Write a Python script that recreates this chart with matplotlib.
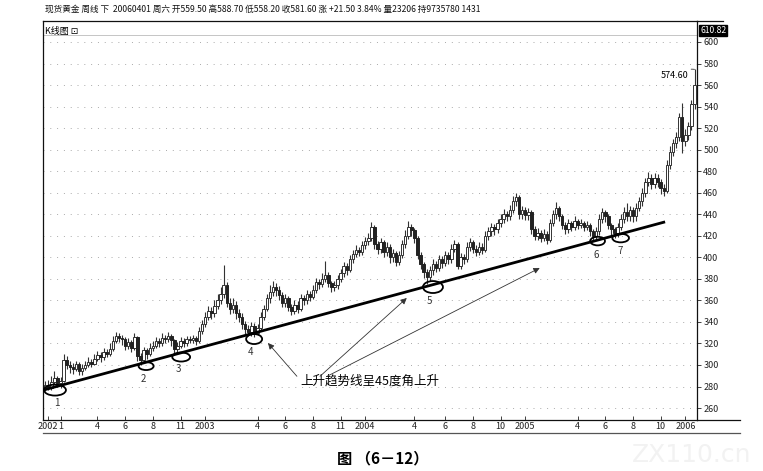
import matplotlib
matplotlib.use("Agg")
import matplotlib.pyplot as plt
from matplotlib.patches import Ellipse
from matplotlib.lines import Line2D
import matplotlib.transforms as mtransforms
import numpy as np

plt.rcParams['font.family'] = ['Noto Sans CJK SC', 'DejaVu Sans']

# weekly candles, Jan 2002 .. early 2006
closes = [281, 279, 284, 288, 283, 285, 305, 300, 298, 296,
          301, 294, 297, 300, 303, 301, 306, 309, 307, 312,
          310, 315, 322, 327, 325, 324, 318, 321, 316, 326,
          308, 305, 314, 310, 316, 318, 322, 320, 325, 324,
          327, 323, 315, 318, 322, 320, 324, 323, 325, 322,
          332, 338, 345, 350, 348, 355, 360, 366, 374, 358,
          352, 356, 348, 345, 338, 333, 331, 336, 330, 334,
          345, 352, 362, 368, 372, 370, 365, 358, 362, 354,
          350, 356, 352, 362, 360, 366, 363, 370, 377, 375,
          380, 384, 376, 372, 374, 380, 385, 392, 388, 398,
          403, 407, 405, 411, 415, 418, 428, 412, 408, 414,
          405, 410, 400, 404, 396, 402, 412, 420, 428, 425,
          418, 402, 394, 386, 382, 388, 394, 390, 398, 395,
          402, 398, 408, 412, 392, 400, 398, 410, 414, 408,
          405, 410, 407, 420, 424, 428, 426, 432, 436, 440,
          438, 444, 452, 456, 440, 444, 439, 442, 426, 420,
          423, 418, 422, 416, 432, 440, 446, 438, 430, 426,
          432, 428, 434, 430, 432, 428, 430, 424, 420, 424,
          436, 442, 438, 430, 426, 423, 428, 436, 442, 438,
          444, 438, 446, 452, 460, 470, 474, 468, 474, 470,
          464, 462, 486, 498, 506, 512, 530, 508, 514, 522, 542, 560]

highs = [285, 286, 290, 294, 290, 289, 310, 308, 304, 302,
         304, 303, 301, 304, 307, 306, 310, 313, 312, 316,
         315, 320, 327, 331, 330, 328, 326, 325, 323, 330,
         327, 311, 317, 316, 320, 322, 326, 325, 330, 328,
         331, 329, 324, 321, 326, 325, 327, 327, 328, 327,
         335, 342, 349, 355, 354, 360, 366, 372, 393, 377,
         362, 362, 359, 352, 348, 341, 337, 340, 339, 338,
         349, 356, 366, 374, 378, 376, 373, 368, 366, 364,
         357, 360, 359, 366, 365, 370, 369, 374, 381, 380,
         385, 397, 386, 378, 378, 384, 389, 396, 395, 402,
         407, 411, 410, 415, 419, 423, 433, 430, 415, 418,
         416, 414, 412, 408, 406, 406, 416, 425, 434, 431,
         427, 420, 405, 396, 389, 392, 398, 397, 402, 401,
         406, 405, 412, 416, 414, 404, 403, 414, 418, 416,
         411, 414, 413, 424, 428, 432, 431, 436, 440, 445,
         443, 449, 457, 460, 458, 448, 447, 446, 444, 429,
         427, 425, 426, 424, 436, 444, 451, 448, 440, 433,
         436, 434, 438, 436, 436, 434, 434, 432, 426, 428,
         440, 446, 444, 440, 432, 428, 432, 440, 447, 450,
         448, 447, 450, 456, 464, 474, 479, 477, 478, 477,
         473, 468, 490, 503, 510, 516, 534, 543, 519, 526, 546, 574.6]

lows = [276, 277, 277, 282, 280, 279, 284, 296, 293, 292,
        294, 291, 291, 295, 298, 298, 300, 304, 303, 305,
        307, 308, 313, 320, 321, 319, 314, 315, 312, 314,
        304, 300, 303, 306, 308, 313, 316, 317, 318, 320,
        321, 318, 310, 311, 316, 317, 318, 320, 320, 319,
        320, 329, 335, 342, 343, 345, 352, 357, 362, 354,
        347, 348, 343, 340, 333, 329, 327, 327, 326, 328,
        332, 342, 350, 358, 364, 364, 360, 354, 354, 350,
        346, 347, 348, 350, 356, 357, 359, 361, 367, 371,
        372, 377, 372, 368, 369, 371, 377, 382, 384, 386,
        395, 400, 401, 402, 408, 411, 415, 408, 403, 404,
        400, 401, 395, 396, 392, 393, 399, 409, 417, 420,
        413, 398, 389, 381, 375, 378, 384, 386, 387, 390,
        392, 394, 395, 405, 389, 389, 394, 396, 406, 404,
        401, 402, 403, 405, 416, 420, 421, 423, 428, 432,
        434, 435, 441, 448, 436, 436, 435, 435, 422, 416,
        416, 414, 415, 412, 414, 429, 436, 434, 426, 422,
        423, 424, 425, 426, 427, 424, 425, 420, 415, 416,
        421, 432, 433, 426, 421, 418, 419, 425, 432, 434,
        434, 433, 434, 443, 448, 456, 466, 463, 464, 465,
        459, 457, 460, 482, 494, 502, 508, 497, 503, 509, 518, 538]

first_open = 278
opens = [first_open] + closes[:-1]

tick_pos = [1, 5, 17, 26, 35, 44, 52, 69, 78, 87, 96, 104, 120, 130, 139, 148,
            156, 173, 182, 191, 200, 208]
tick_lab = ['2002', '1', '4', '6', '8', '11', '2003', '4', '6', '8', '11', '2004',
            '4', '6', '8', '10', '2005', '4', '6', '8', '10', '2006']

# trend line ends and touch points (week index, price)
trend_x = [-0.6, 201]
trend_y = [276.7, 432.6]
touch_x = [3.2, 32.8, 44.2, 67.9, 126.0, 179.5, 187.0]
touch_y = [276.7, 299.0, 307.4, 324.1, 372.4, 415.1, 417.9]
touch_w = [7.1, 4.9, 5.8, 5.2, 6.5, 4.8, 5.4]
touch_h = [10.2, 7.4, 8.4, 9.3, 11.1, 8.0, 8.0]
touch_lab = ['1', '2', '3', '4', '5', '6', '7']
lab_x = [3.9, 31.8, 43.2, 66.6, 125.0, 179.2, 187.0]
lab_y = [264.6, 286.9, 296.2, 312.0, 359.4, 402.1, 405.9]

header = ("现货黄金 周线 下  20060401 周六 开559.50 高588.70 低558.20 "
          "收581.60 涨 +21.50 3.84% 量23206 持9735780 1431")

W, H = 763, 471
fig = plt.figure(figsize=(W / 100, H / 100), dpi=100)
ax = fig.add_axes([43 / W, 1 - 420 / H, (697 - 43) / W, (420 - 21) / H])

x = np.arange(len(closes))
o = np.array(opens, float)
c = np.array(closes, float)
hi = np.array(highs, float)
lo = np.array(lows, float)
up = c >= o

ax.vlines(x, lo, hi, color='#333333', lw=0.8, zorder=2)
body = np.maximum(np.abs(c - o), 1.0)
ax.bar(x[up], body[up], bottom=np.minimum(o, c)[up], width=0.8,
       facecolor='white', edgecolor='#333333', lw=0.7, zorder=3)
ax.bar(x[~up], body[~up], bottom=np.minimum(o, c)[~up], width=0.8,
       facecolor='#222222', edgecolor='#222222', lw=0.7, zorder=3)

ax.set_xlim(-0.7, 211.8)
ax.set_ylim(248.9, 619.5)

ax.yaxis.tick_right()
ax.set_yticks(np.arange(260, 601, 20))
ax.tick_params(axis='y', labelsize=6.5, length=3, width=0.6, pad=1.5, colors='#222222')
ax.set_xticks(tick_pos)
ax.set_xticklabels(tick_lab)
ax.tick_params(axis='x', labelsize=6.5, length=3, width=0.6, pad=1.5,
               direction='in', colors='#222222')
ax.yaxis.grid(True, linestyle=(0, (1, 6)), color='#aaaaaa', lw=0.7)
for s in ax.spines.values():
    s.set_linewidth(0.9)
    s.set_color('#111111')
ax.axhline(606.5, color='#bbbbbb', lw=0.6)

# trend line, circles, numbers
ax.plot(trend_x, trend_y, color='black', lw=2.0, zorder=4)
for cx, cy, w, h in zip(touch_x, touch_y, touch_w, touch_h):
    ax.add_patch(Ellipse((cx, cy), w, h, fill=False, edgecolor='black', lw=1.3, zorder=5))
for lx, ly, t in zip(lab_x, lab_y, touch_lab):
    ax.text(lx, ly, t, fontsize=7, color='#333333', ha='center', va='center')

ax.text(105.5, 285.1, '上升趋势线呈45度角上升', fontsize=9, ha='center', va='center')
arrow_tail = [(81.8, 289.5), (89.3, 289.5), (91.6, 289.5)]
arrow_head = [(72.4, 320.4), (117.5, 362.2), (160.7, 390.1)]
for t, hd in zip(arrow_tail, arrow_head):
    ax.annotate('', xy=hd, xytext=t,
                arrowprops=dict(arrowstyle='-|>', color='#333333', lw=0.6,
                                mutation_scale=9, shrinkA=0, shrinkB=0))

ax.annotate('574.60', xy=(211, 574.6), xytext=(204.5, 569.3), fontsize=6.5,
            ha='center', va='center',
            arrowprops=dict(arrowstyle='-', color='#333333', lw=0.6,
                            shrinkA=8, shrinkB=0, connectionstyle='arc3,rad=-0.2'))

ax.text(0.003, 0.985, 'K线图 ⊡', transform=ax.transAxes, fontsize=6.5,
        ha='left', va='top', family=['Noto Sans CJK SC', 'DejaVu Sans'])

trans = mtransforms.blended_transform_factory(ax.transAxes, ax.transData)
ax.text(1.005, 610.82, '610.82', transform=trans, fontsize=6.2, color='white',
        ha='left', va='center',
        bbox=dict(boxstyle='square,pad=0.12', facecolor='black', edgecolor='black'))

# header, frame extensions, caption
fig.text(45 / W, 1 - 9 / H, header, fontsize=6.2, ha='left', va='center', color='#111111')
for (x0, x1, yy, col) in [(697, 723, 21, '#111111'), (697, 740, 420, '#111111'),
                          (43, 740, 433, '#555555')]:
    fig.add_artist(Line2D([x0 / W, x1 / W], [1 - yy / H, 1 - yy / H],
                          transform=fig.transFigure, color=col, lw=0.9))

fig.text(383 / W, 1 - 458 / H, '图 （6－12）', fontsize=11, fontweight='bold',
         ha='center', va='center')
fig.text(692 / W, 1 - 455 / H, 'ZX110.cn', fontsize=18, color='#f2f2f2',
         ha='center', va='center', family='DejaVu Sans')

fig.savefig('out.png', dpi=100)
